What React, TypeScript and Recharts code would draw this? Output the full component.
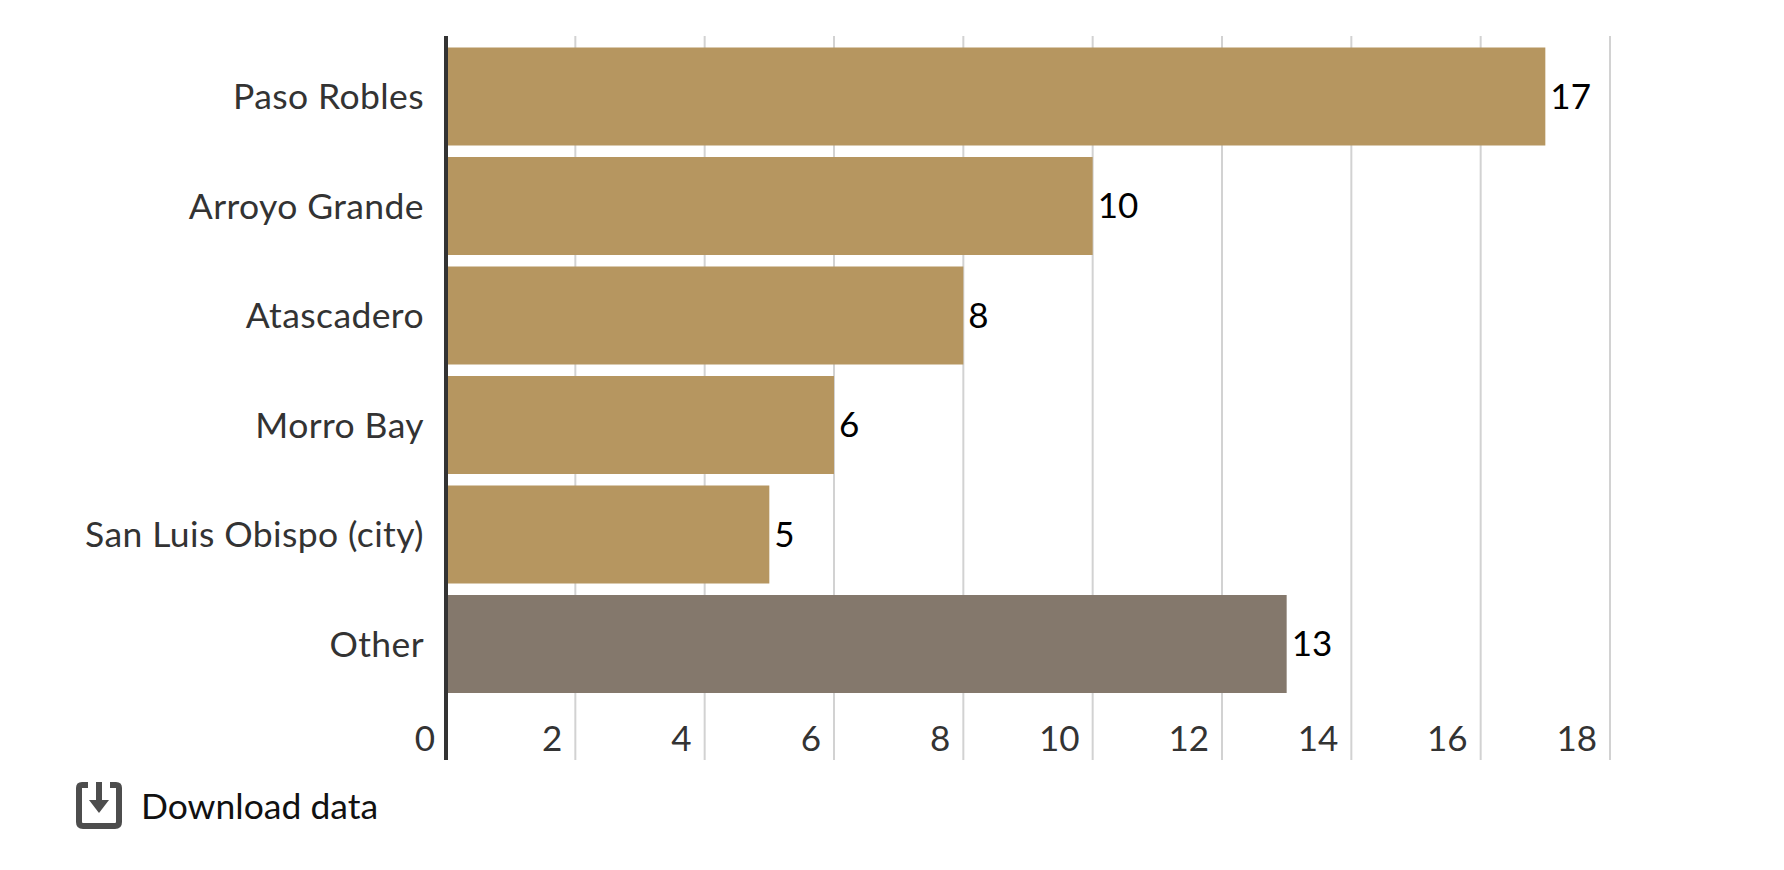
import React from "react";
import { BarChart, Bar, XAxis, YAxis, CartesianGrid, Cell, LabelList } from "recharts";

const categories = ["Paso Robles", "Arroyo Grande", "Atascadero", "Morro Bay", "San Luis Obispo (city)", "Other"];
const counts = [17, 10, 8, 6, 5, 13];
const xTicks = [0, 2, 4, 6, 8, 10, 12, 14, 16, 18];
const barColors = ["#b69660", "#b69660", "#b69660", "#b69660", "#b69660", "#84786c"];
const rows = categories.map((name, i) => ({ name, value: counts[i] }));
const FONT = "Lato, 'Noto Sans', sans-serif";
const FS = 35;

const XTick = (p: any) => (
  <text x={p.x - (p.payload.value === 0 ? 11 : 13)} y={751} textAnchor="end" fontFamily={FONT} fontSize={FS} fill="#333">
    {p.payload.value}
  </text>
);
const YTick = (p: any) => (
  <text x={424} y={p.y + 13} textAnchor="end" fontFamily={FONT} fontSize={35.5} letterSpacing={0.4} fill="#333">
    {p.payload.value}
  </text>
);

export default function App() {
  return (
    <div style={{ position: "absolute", left: 0, top: 0, width: 1784, height: 870, background: "#fff" }}>
      <BarChart width={1784} height={870} data={rows} layout="vertical" barSize={98}
        margin={{ top: 36, right: 174, bottom: 109, left: 0 }}>
        <CartesianGrid horizontal={false} vertical stroke="#d2d2d2" strokeWidth={2} />
        <XAxis type="number" domain={[0, 18]} ticks={xTicks} height={1} axisLine={false} tickLine={false} tick={<XTick />} interval={0} />
        <Bar dataKey="value" isAnimationActive={false}>
          {rows.map((r, i) => <Cell key={r.name} fill={barColors[i]} />)}
          <LabelList dataKey="value" position="right" offset={5} fontFamily={FONT} fontSize={FS} fill="#000" />
        </Bar>
        <YAxis type="category" dataKey="name" width={446} padding={{ top: 5.5, bottom: 61.5 }} stroke="#333" strokeWidth={4} tickLine={false} tick={<YTick />} interval={0} />
      </BarChart>
      <svg width={46} height={48} viewBox="0 0 46 48" style={{ position: "absolute", left: 76, top: 781 }}>
        <path d="M12 4 H6 Q3 4 3 7 V41 Q3 45 7 45 H39 Q43 45 43 41 V7 Q43 4 40 4 H34" fill="none" stroke="#4d4d4d" strokeWidth={6} />
        <rect x={20} y={1} width={6} height={20} fill="#4d4d4d" />
        <path d="M13 19 H33 L23 32 Z" fill="#4d4d4d" />
      </svg>
      <div style={{ position: "absolute", left: 141, top: 784, fontFamily: FONT, fontSize: 35.5, color: "#111", lineHeight: "44px" }}>Download data</div>
    </div>
  );
}
